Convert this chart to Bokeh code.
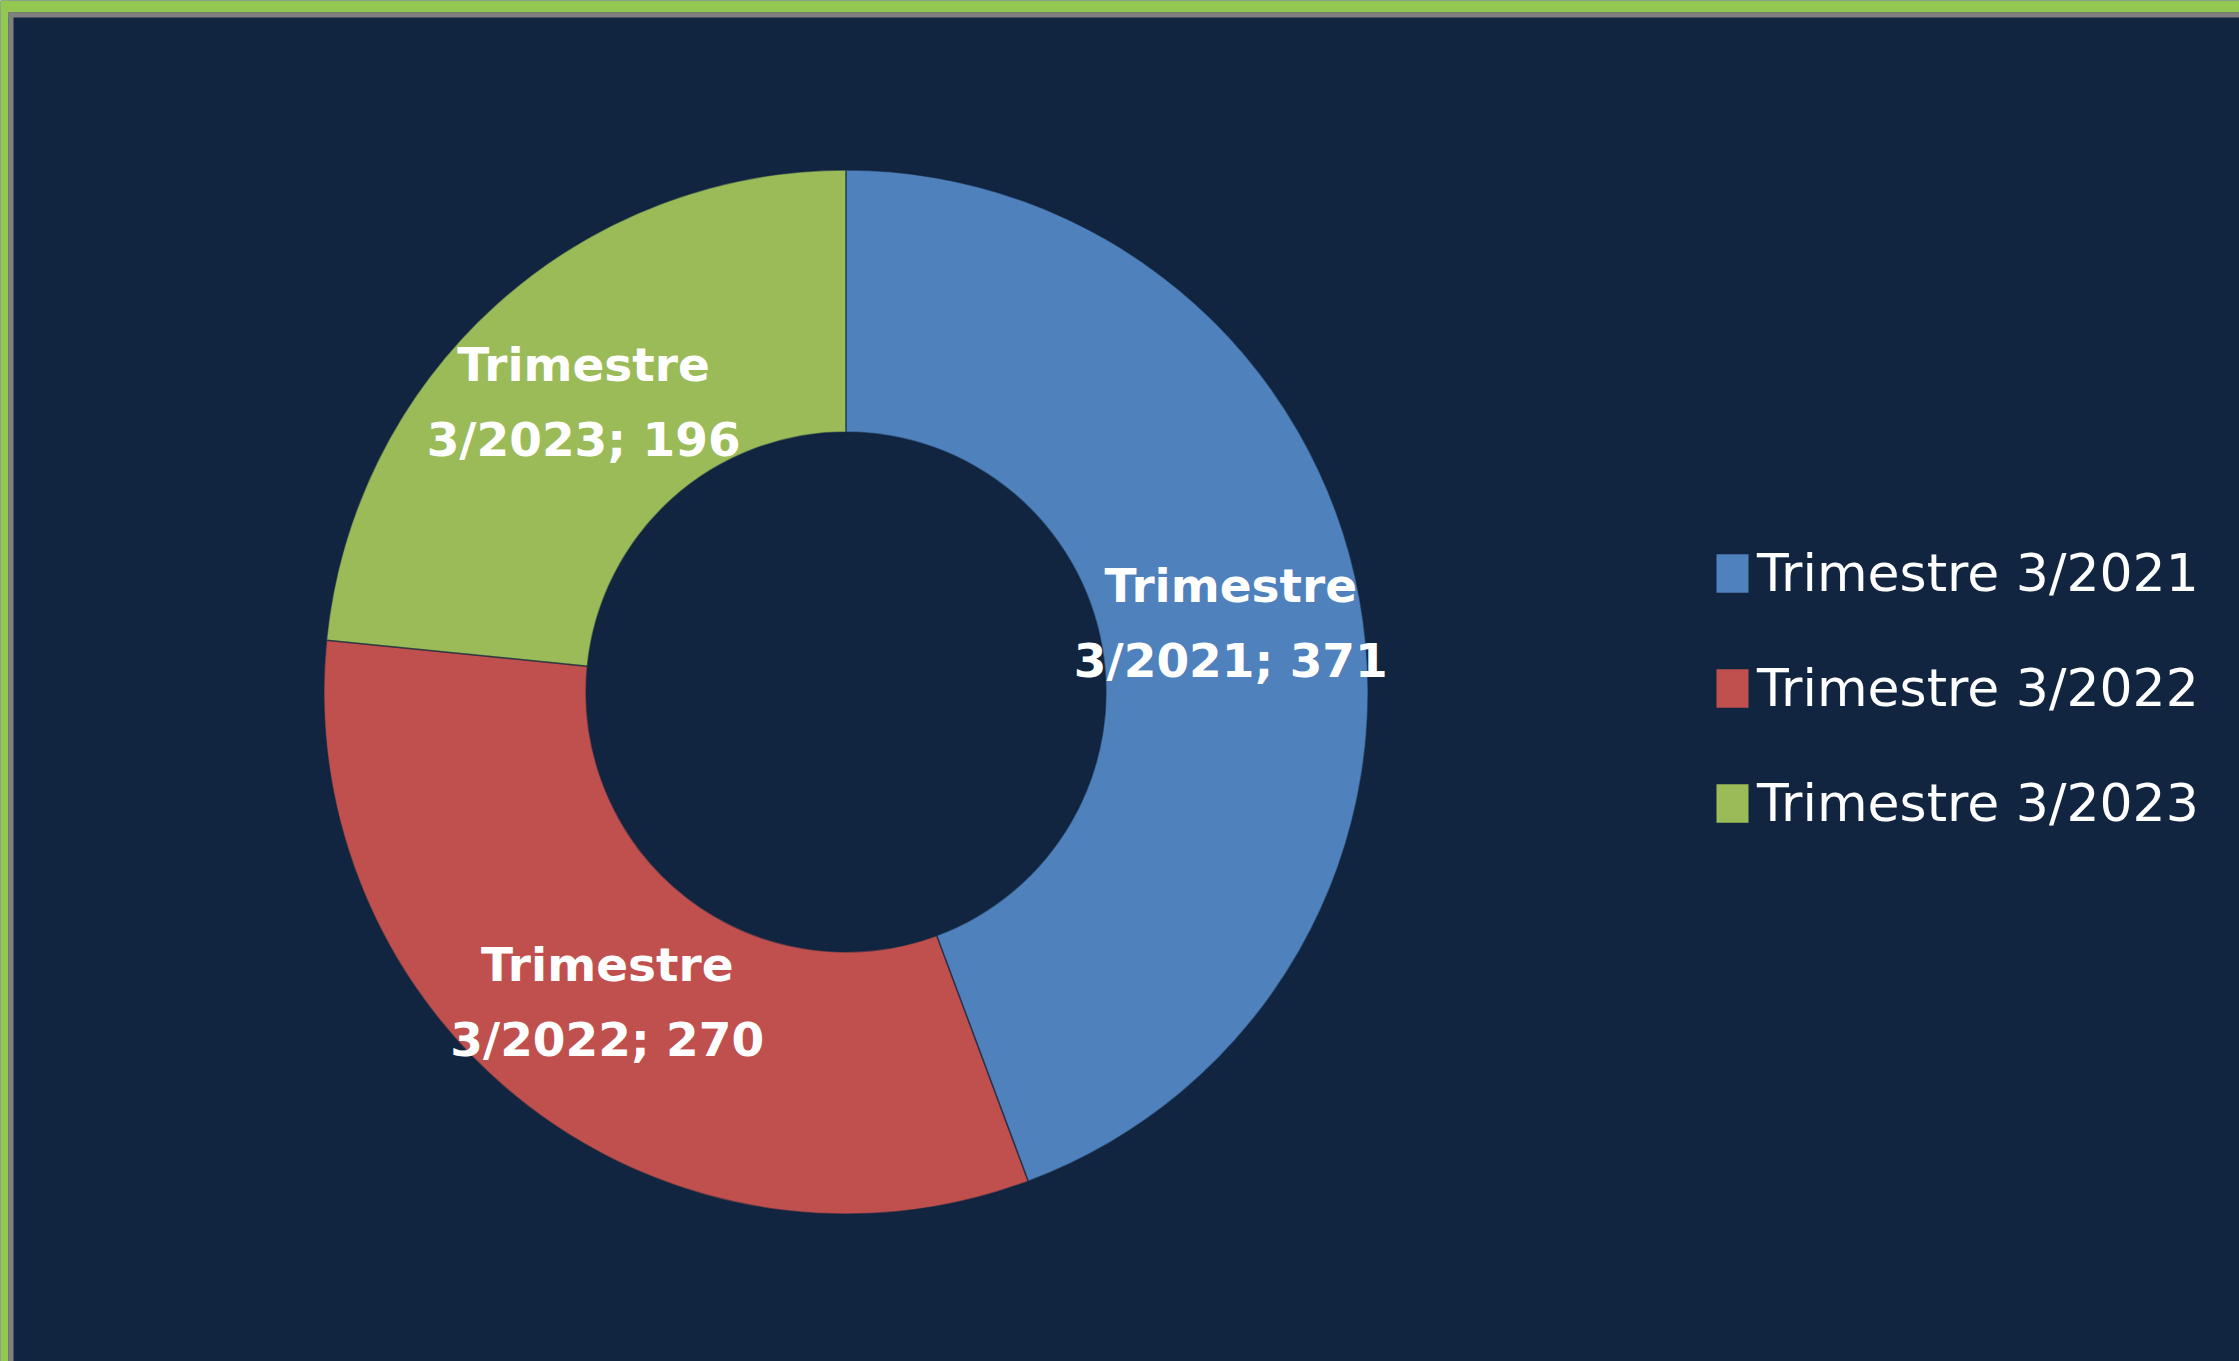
import math
from bokeh.plotting import figure
from bokeh.models import ColumnDataSource, Range1d, Legend, LegendItem, BoxAnnotation
from bokeh.core.properties import value
from bokeh.embed import file_html
from bokeh.resources import INLINE

# ---- data ----
categories = ["Trimestre 3/2021", "Trimestre 3/2022", "Trimestre 3/2023"]
values = [371, 270, 196]
colors = ["#4F81BD", "#C0504D", "#9BBB59"]

# ---- layout / style ----
NAVY = "#112540"
EDGE_GREEN = "#92C851"
GRAY = "#808080"
W, H = 2239, 1361
CX, CY = 845.5, 691.5          # donut centre, px from canvas left / top
R_OUT, R_IN = 522, 260
FONT = "DejaVu Sans"

total = sum(values)
starts, ends = [], []
a = math.pi / 2
for v in values:
    starts.append(a)
    a -= v / total * 2 * math.pi
    ends.append(a)

r_mid = (R_OUT + R_IN) / 2
mids = [(s + e) / 2 for s, e in zip(starts, ends)]
labels = [c.replace(" ", "\n", 1) + "; " + str(v) for c, v in zip(categories, values)]

src = ColumnDataSource(dict(
    cat=categories, val=values, color=colors, start=starts, end=ends,
    lx=[r_mid * math.cos(m) for m in mids],
    ly=[r_mid * math.sin(m) for m in mids],
    label=labels,
))

X0, Y1 = -CX, CY   # canvas left / top in data units (1 unit = 1 px)
p = figure(width=W, height=H, x_range=Range1d(X0, W - CX), y_range=Range1d(-(H - CY), Y1),
           min_border=0, toolbar_location=None, output_backend="svg",
           x_axis_type=None, y_axis_type=None,
           background_fill_color=NAVY, border_fill_color=NAVY, outline_line_color=None)
p.grid.visible = False

# decorative frame edges (green outer band, grey inner border)
p.add_layout(BoxAnnotation(right=X0 + 8, fill_color=EDGE_GREEN, fill_alpha=1, line_color=None))
p.add_layout(BoxAnnotation(bottom=Y1 - 12, fill_color=EDGE_GREEN, fill_alpha=1, line_color=None))
p.add_layout(BoxAnnotation(left=X0 + 8, right=X0 + 13, top=Y1 - 12,
                           fill_color=GRAY, fill_alpha=1, line_color=None))
p.add_layout(BoxAnnotation(left=X0 + 8, bottom=Y1 - 17, top=Y1 - 12,
                           fill_color=GRAY, fill_alpha=1, line_color=None))

renderers = []
for i in range(len(values)):
    r = p.annular_wedge(x=0, y=0, inner_radius=R_IN, outer_radius=R_OUT,
                        start_angle=starts[i], end_angle=ends[i], direction="clock",
                        fill_color=colors[i], line_color=None)
    renderers.append(r)

p.annular_wedge(x=0, y=0, inner_radius=R_IN, outer_radius=R_OUT,
                start_angle="start", end_angle="end", direction="clock", source=src,
                fill_color=None, line_color=NAVY, line_alpha=0.5, line_width=1.5)

p.text(x="lx", y="ly", text="label", source=src, text_align="center", text_baseline="middle",
       text_color="white", text_font=value(FONT), text_font_style="bold",
       text_font_size="47px", text_line_height=1.36)

legend = Legend(items=[LegendItem(label=c, renderers=[r]) for c, r in zip(categories, renderers)],
                location=(1712, 528), orientation="vertical",
                glyph_width=40, glyph_height=48, label_standoff=5, spacing=55,
                padding=0, margin=0, border_line_color=None, background_fill_alpha=0,
                label_text_color="white", label_text_font=FONT, label_text_font_size="52px")
p.add_layout(legend)

open("out.html", "w").write(file_html(p, INLINE))
